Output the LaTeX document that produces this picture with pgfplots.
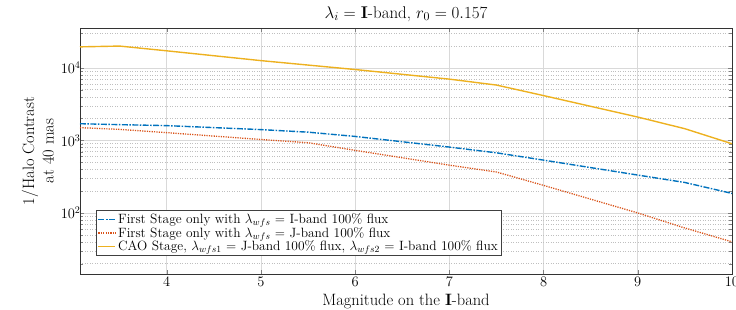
\RequirePackage{fix-cm}
\documentclass[border=0pt]{standalone}
\usepackage{pgfplots}
\pgfplotsset{compat=1.18}
\definecolor{mblue}{rgb}{0,0.447,0.741}
\definecolor{mred}{rgb}{0.85,0.325,0.098}
\definecolor{myel}{rgb}{0.929,0.694,0.125}
\begin{document}
\begin{tikzpicture}
\path[use as bounding box] (-80bp,-36bp) rectangle (656bp,274bp);
\begin{axis}[
  at={(0,0)}, anchor=south west,
  scale only axis, width=652bp, height=246bp,
  xmode=normal, ymode=log,
  xmin=3.08, xmax=10, ymin=14.4, ymax=35500,
  xtick={4,5,6,7,8,9,10},
  ytick={100,1000,10000},
  minor ytick={20,30,40,50,60,70,80,90,200,300,400,500,600,700,800,900,2000,3000,4000,5000,6000,7000,8000,9000,20000,30000},
  log basis y=10,
  tick align=inside,
  ticklabel style={font=\fontsize{14.5}{17}\selectfont},
  yticklabel style={xshift=4bp},
  label style={font=\fontsize{16.5}{19.5}\selectfont},
  title style={font=\fontsize{17}{20}\selectfont, yshift=-3bp},
  title={$\lambda_i = $ \textbf{I}-band, $r_0 = 0.157$},
  xlabel={Magnitude on the \textbf{I}-band},
  ylabel={1/Halo Contrast\\at 40 mas},
  ylabel style={align=center},
  ymajorgrids, xmajorgrids, yminorgrids,
  major grid style={gray!30, line width=0.6pt},
  minor grid style={gray!50, line width=0.5pt, dash pattern=on 1pt off 1.5pt},
  axis line style={black!80, line width=0.6pt},
  legend style={at={(0.0245,0.073)}, anchor=south west, font=\fontsize{13.5}{15}\selectfont,
    draw=black!75, line width=0.6pt, row sep=-2pt, inner sep=1.5pt},
  legend cell align=left,
]
\addplot[color=mblue, line width=1.4pt, dash pattern=on 6pt off 1.5pt on 1.5pt off 1.5pt] coordinates {
(3.08,1700) (3.5,1650) (4,1600) (5,1410) (5.5,1300) (6,1135) (7,810) (7.5,675) (8,535) (9,333) (9.5,263) (10,186)};
\addlegendentry{First Stage only with $\lambda_{wfs}$ = I-band 100\% flux}
\addplot[color=mred, line width=1.3pt, dash pattern=on 1.2pt off 1.2pt] coordinates {
(3.08,1500) (3.5,1420) (4,1280) (5,1030) (5.5,930) (6,730) (7,456) (7.5,367) (8,240) (9,100) (9.5,62) (10,40)};
\addlegendentry{First Stage only with $\lambda_{wfs}$ = J-band 100\% flux}
\addplot[color=myel, line width=1.4pt] coordinates {
(3.08,19500) (3.5,20000) (4,17200) (5,12600) (6,9500) (7,7000) (7.5,5800) (8,4150) (9,2100) (9.5,1450) (10,900)};
\addlegendentry{CAO Stage, $\lambda_{wfs1}$ = J-band 100\% flux, $\lambda_{wfs2}$ = I-band 100\% flux}
\end{axis}
\end{tikzpicture}
\end{document}
